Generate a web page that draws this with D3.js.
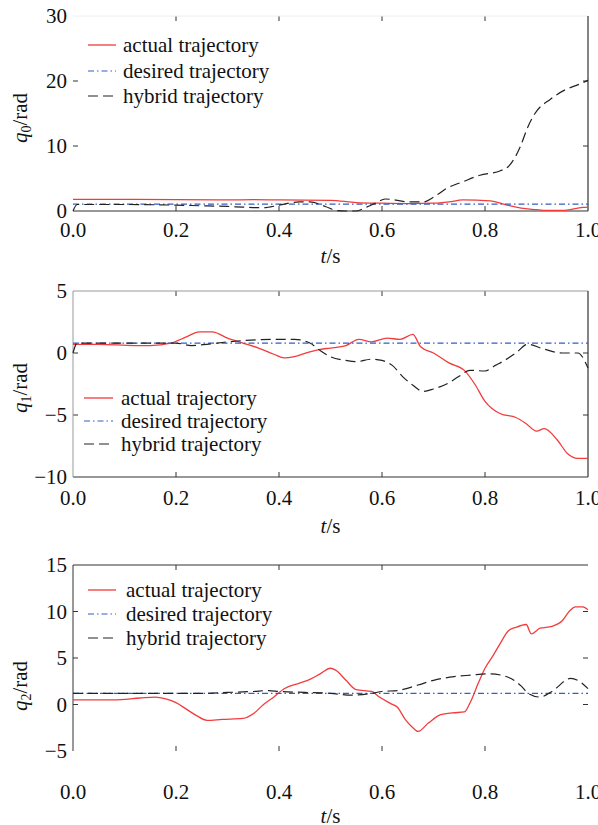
<!DOCTYPE html>
<html>
<head>
<meta charset="utf-8">
<script src="https://cdn.jsdelivr.net/npm/d3@7"></script>
<style>
  html, body { margin: 0; padding: 0; background: #fff; }
  svg { display: block; }
  svg text { font-family: "Liberation Serif", "DejaVu Serif", serif; }
</style>
</head>
<body>
<svg id="chart" width="598" height="825"></svg>
<script>
// ---- data: joint trajectories q0, q1, q2 over t in [0, 1] s ----
const legendLabels = ["actual trajectory", "desired trajectory", "hybrid trajectory"];
const xTicks = [0, 0.2, 0.4, 0.6, 0.8, 1.0];

// q0
const q0ActualT = [0, 0.1, 0.2, 0.3, 0.35, 0.4, 0.5, 0.55, 0.6, 0.65, 0.7, 0.73, 0.757, 0.81, 0.843, 0.87, 0.9, 0.913, 0.95, 0.99, 1.0];
const q0Actual  = [1.8, 1.8, 1.75, 1.7, 1.75, 1.7, 1.65, 1.3, 1.2, 1.15, 1.2, 1.4, 1.7, 1.55, 0.9, 0.45, 0.2, 0.1, 0.1, 0.55, 0.6];
const q0DesiredT = [0, 1];
const q0Desired  = [1.05, 1.05];
const q0HybridT = [0, 0.008, 0.1, 0.2, 0.25, 0.3, 0.33, 0.37, 0.4, 0.44, 0.46, 0.49, 0.51, 0.53, 0.55, 0.57, 0.59, 0.606, 0.654, 0.68, 0.707, 0.726, 0.757, 0.79, 0.83, 0.845, 0.868, 0.883, 0.897, 0.927, 0.957, 0.98, 1.0];
const q0Hybrid  = [0, 1.0, 1.0, 0.9, 0.8, 0.7, 0.6, 0.5, 0.9, 1.4, 1.4, 0.7, 0.1, 0, 0, 0.6, 1.3, 1.85, 1.4, 1.4, 2.5, 3.5, 4.5, 5.5, 6.2, 6.8, 9.8, 12.9, 15.0, 17.2, 18.7, 19.4, 20.1];
const q0YTicks = [0, 10, 20, 30];

// q1
const q1ActualT = [0, 0.05, 0.12, 0.15, 0.19, 0.22, 0.245, 0.27, 0.3, 0.33, 0.36, 0.39, 0.41, 0.43, 0.46, 0.48, 0.5, 0.53, 0.555, 0.58, 0.61, 0.635, 0.66, 0.675, 0.7, 0.73, 0.76, 0.78, 0.8, 0.83, 0.86, 0.88, 0.9, 0.915, 0.94, 0.96, 0.98, 1.0];
const q1Actual  = [0.7, 0.7, 0.6, 0.6, 0.8, 1.3, 1.7, 1.7, 1.2, 0.8, 0.4, -0.1, -0.4, -0.3, 0.1, 0.3, 0.4, 0.6, 1.1, 0.9, 1.2, 1.1, 1.5, 0.5, 0, -0.8, -1.4, -2.5, -3.9, -4.9, -5.2, -5.7, -6.3, -6.1, -7.0, -8.1, -8.5, -8.5];
const q1DesiredT = [0, 1];
const q1Desired  = [0.8, 0.8];
const q1HybridT = [0, 0.008, 0.1, 0.2, 0.23, 0.26, 0.3, 0.33, 0.4, 0.43, 0.46, 0.48, 0.5, 0.53, 0.55, 0.58, 0.6, 0.62, 0.64, 0.66, 0.68, 0.7, 0.73, 0.749, 0.771, 0.8, 0.82, 0.838, 0.86, 0.883, 0.912, 0.95, 0.98, 1.0];
const q1Hybrid  = [0, 0.8, 0.8, 0.8, 0.6, 0.7, 0.9, 1.0, 1.1, 1.1, 0.8, 0.2, -0.3, -0.6, -0.7, -0.5, -0.6, -1.0, -1.9, -2.6, -3.1, -2.9, -2.4, -1.9, -1.4, -1.45, -1.0, -0.6, 0, 0.7, 0.35, 0, 0, -1.2];
const q1YTicks = [-10, -5, 0, 5];

// q2
const q2ActualT = [0, 0.08, 0.13, 0.16, 0.18, 0.2, 0.22, 0.24, 0.26, 0.29, 0.33, 0.35, 0.37, 0.39, 0.41, 0.44, 0.46, 0.48, 0.5, 0.51, 0.53, 0.55, 0.58, 0.595, 0.617, 0.63, 0.645, 0.66, 0.67, 0.69, 0.714, 0.737, 0.76, 0.772, 0.787, 0.8, 0.815, 0.83, 0.845, 0.86, 0.88, 0.89, 0.907, 0.93, 0.95, 0.965, 0.975, 0.99, 1.0];
const q2Actual  = [0.5, 0.5, 0.7, 0.8, 0.6, 0.2, -0.5, -1.2, -1.7, -1.6, -1.5, -1.0, 0, 0.8, 1.7, 2.3, 2.7, 3.3, 3.9, 3.7, 2.6, 1.6, 1.4, 0.8, 0.1, -0.3, -1.6, -2.5, -2.9, -2.0, -1.1, -0.9, -0.8, 0.3, 2.3, 3.9, 5.2, 6.6, 7.9, 8.3, 8.6, 7.6, 8.2, 8.4, 9.0, 10.1, 10.5, 10.5, 10.2];
const q2DesiredT = [0, 1];
const q2Desired  = [1.2, 1.2];
const q2HybridT = [0, 0.25, 0.3, 0.35, 0.38, 0.4, 0.45, 0.5, 0.54, 0.58, 0.6, 0.63, 0.67, 0.7, 0.74, 0.772, 0.81, 0.846, 0.87, 0.884, 0.907, 0.93, 0.966, 0.98, 1.0];
const q2Hybrid  = [1.2, 1.2, 1.3, 1.4, 1.5, 1.4, 1.3, 1.2, 1.0, 1.2, 1.4, 1.5, 2.1, 2.6, 3.0, 3.15, 3.3, 2.9, 2.0, 1.2, 0.8, 1.4, 2.8, 2.6, 1.7];
const q2YTicks = [-5, 0, 5, 10, 15];

// ---- styling ----
const seriesStyle = [
  { color: "#f23c3c", width: 1.3, dash: null },
  { color: "#2f5fc8", width: 1.2, dash: "6,3,1.5,3" },
  { color: "#222222", width: 1.2, dash: "10,5" }
];
const FONT = 21;

const svg = d3.select("#chart");
const x = d3.scaleLinear().domain([0, 1]).range([73, 588]);

const panels = [
  {
    sub: "0", yDomain: [0, 30], yRange: [211, 16], yTicks: q0YTicks,
    series: [[q0ActualT, q0Actual], [q0DesiredT, q0Desired], [q0HybridT, q0Hybrid]],
    frame: { left: null, top: "#eeeeee", right: "#333", bottom: "#333" },
    xLabelY: 230, tLabelY: 256, yLabelY: 118,
    legend: { x1: 88, x2: 116, tx: 123, ys: [45, 71, 96] }
  },
  {
    sub: "1", yDomain: [-10, 5], yRange: [477, 291], yTicks: q1YTicks,
    series: [[q1ActualT, q1Actual], [q1DesiredT, q1Desired], [q1HybridT, q1Hybrid]],
    frame: { left: "#999", top: "#999", right: "#333", bottom: "#333" },
    xLabelY: 498, tLabelY: 526, yLabelY: 388,
    legend: { x1: 84, x2: 113, tx: 121, ys: [398, 421, 444] }
  },
  {
    sub: "2", yDomain: [-5, 15], yRange: [751, 565], yTicks: q2YTicks,
    series: [[q2ActualT, q2Actual], [q2DesiredT, q2Desired], [q2HybridT, q2Hybrid]],
    frame: { left: "#333", top: "#333", right: null, bottom: null },
    xLabelY: 792, tLabelY: 816, yLabelY: 686,
    legend: { x1: 88, x2: 116, tx: 126, ys: [590, 614, 638] }
  }
];

panels.forEach((p, i) => {
  const y = d3.scaleLinear().domain(p.yDomain).range(p.yRange);
  const g = svg.append("g").attr("class", "panel-" + i);
  const [x0, x1] = x.range();
  const yb = p.yRange[0], yt = p.yRange[1];
  const TL = 5;

  // inward ticks on all sides (interior ticks only)
  const innerX = xTicks.filter(v => v > 0 && v < 1);
  const innerY = p.yTicks.filter(v => v > p.yDomain[0] && v < p.yDomain[1]);
  const tickG = g.append("g").attr("stroke", "#333").attr("stroke-width", 1);
  innerX.forEach(v => {
    tickG.append("line").attr("x1", x(v)).attr("x2", x(v)).attr("y1", yb).attr("y2", yb - TL);
    tickG.append("line").attr("x1", x(v)).attr("x2", x(v)).attr("y1", yt).attr("y2", yt + TL);
  });
  innerY.forEach(v => {
    tickG.append("line").attr("x1", x0).attr("x2", x0 + TL).attr("y1", y(v)).attr("y2", y(v));
    tickG.append("line").attr("x1", x1).attr("x2", x1 - TL).attr("y1", y(v)).attr("y2", y(v));
  });

  // frame
  const f = p.frame;
  if (f.top) g.append("line").attr("x1", x0).attr("x2", x1).attr("y1", yt).attr("y2", yt).attr("stroke", f.top).attr("stroke-width", 1);
  if (f.bottom) g.append("line").attr("x1", x0).attr("x2", x1).attr("y1", yb).attr("y2", yb).attr("stroke", f.bottom).attr("stroke-width", 1.2);
  if (f.left) g.append("line").attr("x1", x0).attr("x2", x0).attr("y1", yt).attr("y2", yb).attr("stroke", f.left).attr("stroke-width", 1);
  if (f.right) g.append("line").attr("x1", x1).attr("x2", x1).attr("y1", yt).attr("y2", yb).attr("stroke", f.right).attr("stroke-width", 1.2);

  // tick labels
  g.append("g").selectAll("text").data(xTicks).join("text")
    .attr("x", d => x(d)).attr("y", p.xLabelY).attr("dy", "0.35em")
    .attr("text-anchor", "middle").attr("font-size", FONT).attr("fill", "#111")
    .text(d => d3.format(".1f")(d));
  g.append("g").selectAll("text").data(p.yTicks).join("text")
    .attr("x", x0 - 6).attr("y", d => y(d)).attr("dy", "0.35em")
    .attr("text-anchor", "end").attr("font-size", FONT).attr("fill", "#111")
    .text(d => d < 0 ? "\u2212" + Math.abs(d) : String(d));

  // axis titles
  const tl = g.append("text").attr("x", (x0 + x1) / 2).attr("y", p.tLabelY).attr("dy", "0.35em")
    .attr("text-anchor", "middle").attr("font-size", FONT).attr("fill", "#111");
  tl.append("tspan").attr("font-style", "italic").text("t");
  tl.append("tspan").text("/s");

  const yl = g.append("text")
    .attr("transform", `translate(20,${p.yLabelY}) rotate(-90)`)
    .attr("dy", "0.35em").attr("text-anchor", "middle").attr("font-size", FONT).attr("fill", "#111");
  yl.append("tspan").attr("font-style", "italic").text("q");
  yl.append("tspan").attr("font-size", 14).attr("dy", "4").text(p.sub);
  yl.append("tspan").attr("dy", "-4").text("/rad");

  // curves
  const line = d3.line().x(d => x(d[0])).y(d => y(d[1])).curve(d3.curveMonotoneX);
  p.series.forEach((s, k) => {
    const pts = s[0].map((t, j) => [t, s[1][j]]);
    const st = seriesStyle[k];
    g.append("path").datum(pts).attr("d", line)
      .attr("fill", "none").attr("stroke", st.color).attr("stroke-width", st.width)
      .attr("stroke-dasharray", st.dash);
  });

  // legend
  const L = p.legend;
  legendLabels.forEach((lab, k) => {
    const st = seriesStyle[k];
    g.append("line").attr("x1", L.x1).attr("x2", L.x2).attr("y1", L.ys[k]).attr("y2", L.ys[k])
      .attr("stroke", st.color).attr("stroke-width", st.width).attr("stroke-dasharray", st.dash);
    g.append("text").attr("x", L.tx).attr("y", L.ys[k]).attr("dy", "0.35em")
      .attr("font-size", FONT).attr("fill", "#111").text(lab);
  });
});
</script>
</body>
</html>
